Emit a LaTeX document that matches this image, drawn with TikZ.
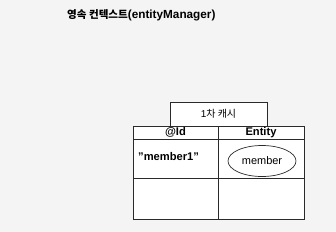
\documentclass[tikz,border=0pt]{standalone}
\usepackage{fontspec}
\setmainfont{Liberation Sans}
\newfontfamily\krfont{Noto Sans CJK KR}
\usepackage{tikz}
\usetikzlibrary{shapes.geometric}
\definecolor{pagegray}{HTML}{F4F4F4}
\definecolor{linegray}{HTML}{2A2A2A}
\def\TableLeft{133}
\def\TableMid{218}
\def\TableRight{304}
\def\TableTop{126}
\def\HeadBottom{139}
\def\RowOneBottom{178}
\def\TableBottom{219}

\begin{document}
\begin{tikzpicture}[x=1bp,y=-1bp,
    cellline/.style={line width=0.8pt,draw=linegray},
    headtext/.style={font=\bfseries\fontsize{11.2}{12}\selectfont,inner sep=0pt}]

% Page background
\fill[pagegray] (0,0) rectangle (336,232);
\useasboundingbox (0,0) rectangle (336,232);

% =====================================================
% TITLE
% =====================================================
\node[anchor=west,font=\bfseries\fontsize{11.8}{12}\selectfont,inner sep=0pt] (title) at (67,15.5)
    {{\krfont\fontsize{10.6}{12}\selectfont 영속 컨텍스트}(entityManager)};

% =====================================================
% CACHE TAB
% =====================================================
\draw[cellline,fill=white] (170,102) rectangle (267,\TableTop);
\node[font=\fontsize{10}{12}\selectfont,inner sep=0pt] (cachelabel) at (218.5,114)
    {1{\krfont 차 캐시}};

% =====================================================
% CACHE TABLE
% =====================================================
\draw[cellline,fill=white] (\TableLeft,\TableTop) rectangle (\TableRight,\TableBottom);
\draw[cellline] (\TableLeft,\HeadBottom) -- (\TableRight,\HeadBottom);
\draw[cellline] (\TableLeft,\RowOneBottom) -- (\TableRight,\RowOneBottom);
\draw[cellline] (\TableMid,\TableTop) -- (\TableMid,\TableBottom);

% Header row
\node[headtext] (idhead) at (175.5,132.5) {@Id};
\node[headtext] (entityhead) at (261,132.5) {Entity};

% First entry
\node[anchor=west,headtext] (key) at (138,156.5) {"member1"};
\node[ellipse,draw=linegray,line width=0.7pt,minimum width=68bp,minimum height=31bp,
      font=\fontsize{11}{12}\selectfont] (value) at (262,161) {member};

\end{tikzpicture}
\end{document}
